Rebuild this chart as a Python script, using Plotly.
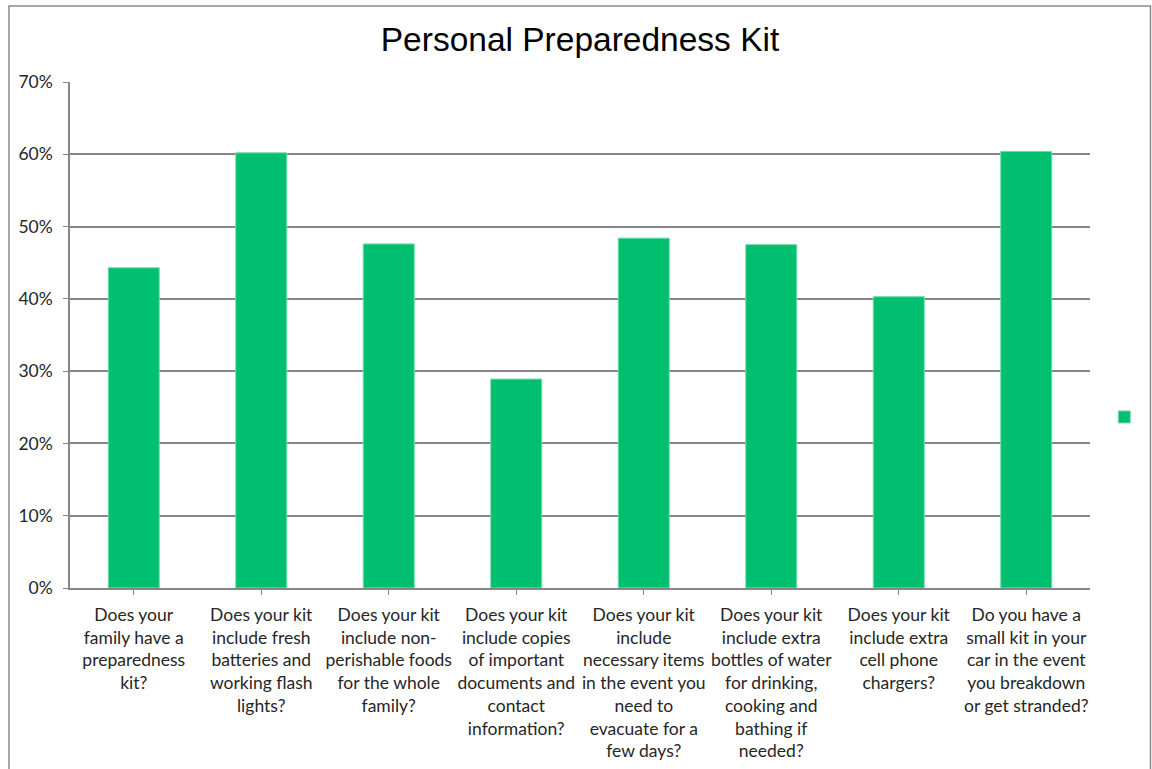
import plotly.graph_objects as go

# Survey questions (category labels, pre-wrapped) and share of "yes" answers
questions = [
    "Does your<br>family have a<br>preparedness<br>kit?",
    "Does your kit<br>include fresh<br>batteries and<br>working flash<br>lights?",
    "Does your kit<br>include non-<br>perishable foods<br>for the whole<br>family?",
    "Does your kit<br>include copies<br>of important<br>documents and<br>contact<br>information?",
    "Does your kit<br>include<br>necessary items<br>in the event you<br>need to<br>evacuate for a<br>few days?",
    "Does your kit<br>include extra<br>bottles of water<br>for drinking,<br>cooking and<br>bathing if<br>needed?",
    "Does your kit<br>include extra<br>cell phone<br>chargers?",
    "Do you have a<br>small kit in your<br>car in the event<br>you breakdown<br>or get stranded?",
]
shares = [0.443, 0.602, 0.476, 0.289, 0.484, 0.475, 0.403, 0.604]

y_ticks = [0, 0.1, 0.2, 0.3, 0.4, 0.5, 0.6, 0.7]

GREEN = "#00BF6F"
GRID = "#868686"
LABEL_FONT = "Lato"

fig = go.Figure(
    go.Bar(
        x=list(range(len(questions))),
        y=shares,
        width=0.4,
        marker=dict(color=GREEN, line=dict(color="#6fdcaa", width=1)),
        name="",
        showlegend=True,
    )
)

fig.update_layout(
    width=1152,
    height=769,
    margin=dict(l=70, r=62, t=82, b=181, autoexpand=False),
    paper_bgcolor="white",
    plot_bgcolor="white",
    title=dict(
        text="Personal Preparedness Kit",
        font=dict(family="Liberation Sans", size=33.5, color="black"),
        x=0.5,
        xref="paper",
        xanchor="center",
        y=1 - 39 / 769,
        yanchor="middle",
    ),
    legend=dict(
        x=1.014,
        xanchor="left",
        y=0.338,
        yanchor="middle",
        bgcolor="rgba(0,0,0,0)",
        font=dict(family=LABEL_FONT, size=12),
        itemwidth=30,
    ),
    bargap=0.6,
)

fig.update_xaxes(
    tickmode="array",
    tickvals=list(range(len(questions))),
    ticktext=questions,
    range=[-0.5, len(questions) - 0.5],
    tickson="boundaries",
    ticks="outside",
    ticklen=5,
    tickcolor=GRID,
    showline=True,
    linecolor=GRID,
    linewidth=1.5,
    showgrid=False,
    tickangle=0,
    ticklabelstandoff=5,
    tickfont=dict(family=LABEL_FONT, size=17.5, color="#262626"),
    fixedrange=True,
)

fig.update_yaxes(
    range=[0, 0.7],
    tickmode="array",
    tickvals=y_ticks,
    tickformat=".0%",
    ticks="outside",
    ticklen=5,
    tickcolor=GRID,
    showline=True,
    linecolor=GRID,
    linewidth=1.5,
    showgrid=True,
    gridcolor=GRID,
    gridwidth=1.5,
    zeroline=False,
    ticklabelstandoff=7,
    tickfont=dict(family=LABEL_FONT, size=17.5, color="#262626"),
    fixedrange=True,
)

# Thin gray frame around the whole chart
fig.add_shape(
    type="rect",
    xref="paper",
    yref="paper",
    x0=(9 - 70) / 1020,
    x1=(1150.5 - 70) / 1020,
    y0=(588 - 790) / 506,
    y1=(588 - 6) / 506,
    line=dict(color="#8a8a8a", width=1.5),
    fillcolor="rgba(0,0,0,0)",
    layer="below",
)

fig.write_html("out.html")
